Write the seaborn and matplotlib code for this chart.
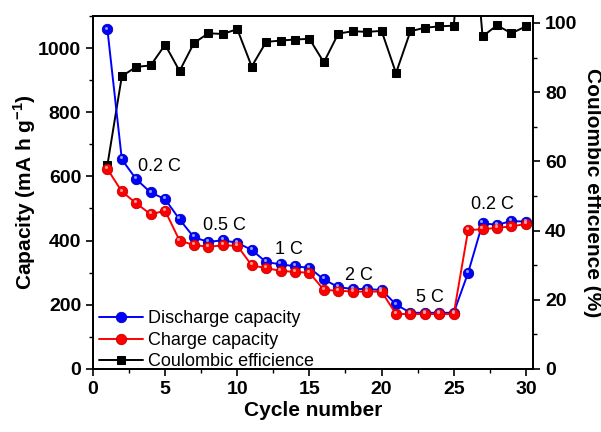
import matplotlib
matplotlib.use("Agg")
import matplotlib.pyplot as plt
import seaborn as sns
import pandas as pd
import numpy as np
from matplotlib.ticker import MultipleLocator

cycles = list(range(1, 31))
discharge = [1058, 653, 591, 550, 529, 466, 410, 396, 401, 393,
             371, 333, 326, 320, 315, 279, 255, 249, 249, 246,
             201, 175, 175, 175, 175, 300, 454, 449, 461, 459]
charge = [623, 553, 516, 482, 493, 400, 386, 381, 385, 384,
          323, 314, 306, 302, 300, 246, 244, 241, 241, 241,
          171, 171, 171, 171, 171, 433, 435, 440, 444, 452]
coulombic = [58.9, 84.6, 87.3, 87.7, 93.7, 86.1, 94.2, 97.0, 96.8, 98.2,
             87.4, 94.5, 94.9, 95.2, 95.4, 88.6, 96.9, 97.6, 97.4, 97.7,
             85.5, 97.6, 98.6, 99.0, 99.2, 144.0, 96.1, 99.3, 97.0, 99.0]
rate_labels = ["0.2 C", "0.5 C", "1 C", "2 C", "5 C", "0.2 C"]
rate_label_pos = [(4.6, 630), (9.13, 448), (13.55, 373), (18.42, 290), (23.35, 222), (27.7, 513)]

df = pd.DataFrame({"cycle": cycles, "discharge": discharge,
                   "charge": charge, "ce": coulombic})

sns.set_style("ticks")
plt.rcParams['font.family'] = ['Liberation Sans', 'DejaVu Sans']
plt.rcParams['mathtext.fontset'] = 'custom'
plt.rcParams['mathtext.rm'] = 'Liberation Sans:bold'
plt.rcParams['mathtext.bf'] = 'Liberation Sans:bold'
for k in ['text.color', 'axes.labelcolor', 'xtick.color', 'ytick.color', 'axes.edgecolor']:
    plt.rcParams[k] = 'black'

fig = plt.figure(figsize=(6.01, 4.32), dpi=100)
ax = fig.add_axes([0.1547, 0.146, 0.887 - 0.1547, 0.963 - 0.146])
ax2 = ax.twinx()

ax.set_zorder(ax2.get_zorder() + 1)
ax.patch.set_visible(False)

sns.lineplot(data=df, x="cycle", y="discharge", ax=ax, color=(0, 0, 1),
             marker="o", markersize=7.5, markeredgecolor=(0, 0, 0.7),
             markeredgewidth=0.6, linewidth=1.4, label="Discharge capacity")
sns.lineplot(data=df, x="cycle", y="charge", ax=ax, color=(1, 0, 0),
             marker="o", markersize=7.5, markeredgecolor=(0.75, 0, 0),
             markeredgewidth=0.6, linewidth=1.4, label="Charge capacity")
# highlight to mimic shaded balls
ax.scatter(np.array(cycles) - 0.08, np.array(discharge) + 6, s=5, color=(0.55, 0.6, 1), zorder=5, linewidths=0)
ax.scatter(np.array(cycles) - 0.08, np.array(charge) + 6, s=5, color=(1, 0.6, 0.6), zorder=5, linewidths=0)

sns.lineplot(data=df, x="cycle", y="ce", ax=ax2, color="black",
             marker="s", markersize=6, markeredgecolor="black",
             linewidth=1.4, label="Coulombic efficience")

for t, (xx, yy) in zip(rate_labels, rate_label_pos):
    ax.text(xx, yy, t, fontsize=13, ha="center", va="center", color="black")

ax.set_xlim(0, 30.5)
ax.set_ylim(0, 1100)
ax2.set_ylim(0, 102)

ax.xaxis.set_major_locator(MultipleLocator(5))
ax.xaxis.set_minor_locator(MultipleLocator(2.5))
ax.yaxis.set_major_locator(MultipleLocator(200))
ax.yaxis.set_minor_locator(MultipleLocator(100))
ax2.yaxis.set_major_locator(MultipleLocator(20))
ax2.yaxis.set_minor_locator(MultipleLocator(10))

for a in (ax, ax2):
    a.tick_params(axis="both", which="major", direction="out", length=5, width=1.2,
                  labelsize=14, colors="black")
    a.tick_params(axis="both", which="minor", direction="out", length=3, width=1.0, colors="black")
    for s in a.spines.values():
        s.set_linewidth(1.3)
        s.set_visible(True)
        s.set_color("black")
    for lbl in a.get_xticklabels() + a.get_yticklabels():
        lbl.set_fontweight("bold")

ax.set_xlabel("Cycle number", fontsize=15, fontweight="bold", labelpad=2)
ax.set_ylabel("Capacity (mA h g$^{-1}$)", fontsize=15, fontweight="bold", labelpad=0)
ax2.set_ylabel("Coulombic efficience (%)", fontsize=15, fontweight="bold",
               rotation=-90, labelpad=18)

h1, l1 = ax.get_legend_handles_labels()
h2, l2 = ax2.get_legend_handles_labels()
if ax2.get_legend():
    ax2.get_legend().remove()
leg = ax.legend(h1 + h2, l1 + l2, loc="lower left", frameon=False, fontsize=13,
                handlelength=2.4, handletextpad=0.3, labelspacing=0.25,
                borderaxespad=0.2, bbox_to_anchor=(-0.01, -0.035))

fig.savefig("out.png", dpi=100)
